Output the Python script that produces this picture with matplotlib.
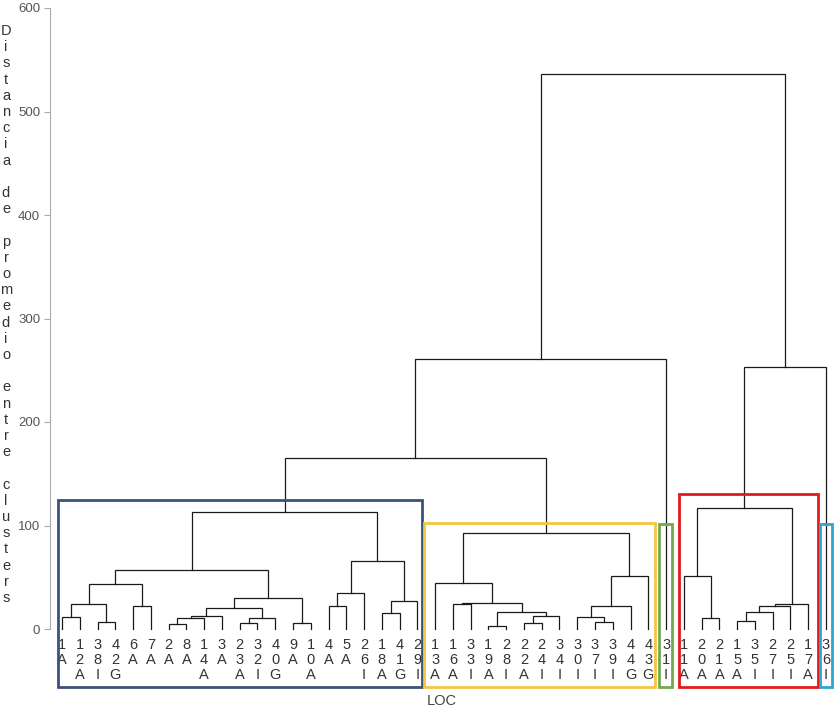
import matplotlib.pyplot as plt
from matplotlib.patches import Rectangle

plt.rcParams['font.family'] = ['Liberation Sans', 'DejaVu Sans']

# leaves in display order
leaf_labels = ["1A", "12A", "38I", "42G", "6A", "7A", "2A", "8A", "14A", "3A", "23A",
               "32I", "40G", "9A", "10A", "4A", "5A", "26I", "18A", "41G", "29I",
               "13A", "16A", "33I", "19A", "28I", "22A", "24I", "34I", "30I", "37I",
               "39I", "44G", "43G", "31I", "11A", "20A", "21A", "15A", "35I", "27I",
               "25I", "17A", "36I"]

# linkage table: (node a, node b, distance); merge k gets id len(leaf_labels)+k
merges = [
    (0, 1, 12), (2, 3, 7), (44, 45, 24), (4, 5, 22.5), (46, 47, 43),
    (6, 7, 4.5), (49, 8, 10.3), (50, 9, 13), (10, 11, 5.5), (52, 12, 11),
    (51, 53, 20), (13, 14, 5.5), (54, 55, 30), (48, 56, 56.7), (15, 16, 22.5),
    (58, 17, 34.8), (18, 19, 15), (60, 20, 27), (59, 61, 66), (57, 62, 113),
    (24, 25, 3.2), (26, 27, 5.5), (65, 28, 13), (64, 66, 16.4), (22, 23, 24),
    (68, 67, 25), (21, 69, 44), (30, 31, 7), (29, 71, 12), (72, 32, 22.5),
    (73, 33, 51.5), (70, 74, 92.7), (63, 75, 165), (76, 34, 261), (36, 37, 11),
    (35, 78, 51.5), (38, 39, 8), (80, 40, 16.4), (81, 41, 22.5), (82, 42, 24),
    (79, 83, 116.6), (84, 43, 253), (77, 85, 536),
]

# highlighted clusters: first leaf, last leaf, box top
cluster_first = [0, 21, 34, 35, 43]
cluster_last = [20, 33, 34, 42, 43]
cluster_top = [124.6, 102.4, 101.4, 130.4, 101.4]
cluster_colors = ["#3b5378", "#f4c542", "#76a84c", "#e01b1b", "#2ea6cf"]

ylabel = "Distancia de promedio entre clusters"

n = len(leaf_labels)
xpos = {i: float(i) for i in range(n)}
ypos = {i: 0.0 for i in range(n)}

fig = plt.figure(figsize=(8.34, 7.10), dpi=100)
ax = fig.add_axes([50 / 834, 81 / 710, 784 / 834, 621 / 710])

for k, (a, b, d) in enumerate(merges):
    node = n + k
    xa, xb = xpos[a], xpos[b]
    ax.plot([xa, xa, xb, xb], [ypos[a], d, d, ypos[b]], color="#1a1a1a", lw=0.9,
            solid_joinstyle='miter', clip_on=False)
    xpos[node] = (xa + xb) / 2
    ypos[node] = d

# leaf labels, one character per row
for i, lab in enumerate(leaf_labels):
    for j, ch in enumerate(lab):
        ax.text(i, -15.5 - j * 14.5, ch, ha='center', va='center', fontsize=10.5,
                color="#333333", clip_on=False)

# cluster boxes
pad_left = [0.23, 0.63, 0.4, 0.28, 0.34]
pad_right = [0.26, 0.37, 0.33, 0.54, 0.33]
for f, l, top, c, pl, pr in zip(cluster_first, cluster_last, cluster_top, cluster_colors,
                                pad_left, pad_right):
    x0 = f - pl
    x1 = l + pr
    ax.add_patch(Rectangle((x0, -56), x1 - x0, top + 56, fill=False, edgecolor=c,
                           lw=2.0, clip_on=False, zorder=3))

ax.set_xlim(-0.675, 43.45)
ax.set_ylim(0, 600)
ax.set_yticks(range(0, 601, 100))
ax.tick_params(axis='y', labelsize=9.5, labelcolor="#555555", color="#aaaaaa",
               length=4, width=0.8, pad=3)
ax.set_xticks([])
for s in ["top", "right", "bottom"]:
    ax.spines[s].set_visible(False)
ax.spines["left"].set_color("#aaaaaa")
ax.spines["left"].set_linewidth(0.8)

ax.set_xlabel("LOC", fontsize=10.5, color="#444444", labelpad=47)

# vertical y-axis title, one letter per line
for k, ch in enumerate(ylabel):
    fig.text(6 / 834, 1 - (31 + k * 16.2) / 710, ch, ha='center', va='center',
             fontsize=10.5, color="#333333")

fig.savefig("out.png", dpi=100)
